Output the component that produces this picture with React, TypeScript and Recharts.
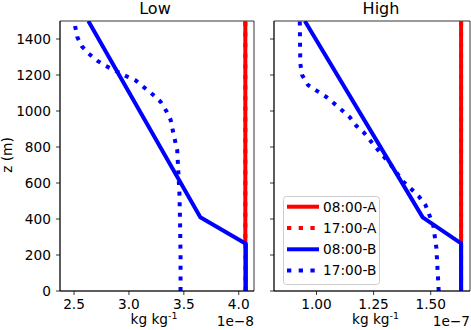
import React from "react";
import { LineChart, Line, XAxis, YAxis, ReferenceArea } from "recharts";

// heights (m) and mixing ratio values, Low panel in 1e-8 kg/kg, High panel in 1e-7 kg/kg
const zTicks = [0, 200, 400, 600, 800, 1000, 1200, 1400];

const lowTicks = [2.5, 3.0, 3.5, 4.0];
const highTicks = [1.0, 1.25, 1.5];

const lowA08z = [0, 1500];
const lowA08v = [4.06, 4.06];
const lowA17z = [0, 1500];
const lowA17v = [4.06, 4.06];
const lowB08z = [0, 262, 410, 1500];
const lowB08v = [4.065, 4.065, 3.65, 2.63];
const lowB17z = [0, 200, 400, 540, 660, 780, 890, 950, 1000, 1050, 1090, 1130, 1170, 1195, 1250, 1280, 1320, 1360, 1410, 1470, 1500];
const lowB17v = [3.47, 3.47, 3.465, 3.46, 3.45, 3.44, 3.4, 3.38, 3.34, 3.29, 3.22, 3.14, 3.06, 2.97, 2.79, 2.71, 2.63, 2.57, 2.53, 2.51, 2.505];

const highA08z = [0, 1500];
const highA08v = [1.633, 1.633];
const highA17z = [0, 1500];
const highA17v = [1.633, 1.633];
const highB08z = [0, 265, 409, 1500];
const highB08v = [1.633, 1.633, 1.465, 0.949];
const highB17z = [0, 237, 367, 478, 524, 565, 607, 700, 793, 880, 917, 965, 1006, 1043, 1080, 1113, 1144, 1200, 1265, 1491, 1500];
const highB17v = [1.535, 1.525, 1.511, 1.477, 1.449, 1.416, 1.38, 1.326, 1.263, 1.207, 1.175, 1.146, 1.11, 1.076, 1.041, 1.0, 0.963, 0.937, 0.929, 0.927, 0.927];

const names = ["08:00-A", "17:00-A", "08:00-B", "17:00-B"];
const colors = ["#ff0000", "#ff0000", "#0000ff", "#0000ff"];
const dotted = [false, true, false, true];

const FONT = "DejaVu Sans";
const FS = 13.7;

const rows = (z: number[], v: number[]) => z.map((zz, i) => ({ z: zz, v: v[i] }));

const lowSeries = [rows(lowA08z, lowA08v), rows(lowA17z, lowA17v), rows(lowB08z, lowB08v), rows(lowB17z, lowB17v)];
const highSeries = [rows(highA08z, highA08v), rows(highA17z, highA17v), rows(highB08z, highB08v), rows(highB17z, highB17v)];

function Panel({
  series,
  domain,
  ticks,
  digits,
  width,
  yWidth,
  marginRight,
  showY,
}: {
  series: { z: number; v: number }[][];
  domain: [number, number];
  ticks: number[];
  digits: number;
  width: number;
  yWidth: number;
  marginRight: number;
  showY: boolean;
}) {
  const tickStyle = { fontSize: FS, fill: "#000", fontFamily: FONT };
  return (
    <LineChart
      layout="vertical"
      width={width}
      height={330}
      margin={{ top: 21, right: marginRight, bottom: 9, left: 0 }}
    >
      <XAxis
        type="number"
        dataKey="v"
        domain={domain}
        ticks={ticks}
        allowDataOverflow
        height={30}
        tickSize={4}
        tickMargin={4}
        stroke="#000"
        strokeWidth={0.8}
        tick={tickStyle}
        tickFormatter={(t) => Number(t).toFixed(digits)}
      />
      <YAxis
        type="number"
        dataKey="z"
        domain={[0, 1500]}
        ticks={zTicks}
        reversed
        allowDataOverflow
        width={yWidth}
        tickSize={4}
        tickMargin={5}
        stroke="#000"
        strokeWidth={0.8}
        tick={tickStyle}
        tickFormatter={(t) => (showY ? String(t) : "")}
      />
      {series.map((d, i) => (
        <Line
          key={names[i]}
          data={d}
          dataKey="v"
          name={names[i]}
          stroke={colors[i]}
          strokeWidth={4}
          strokeDasharray={dotted[i] ? "4 6.6" : undefined}
          strokeLinejoin="round"
          dot={false}
          isAnimationActive={false}
        />
      ))}
      <ReferenceArea
        x1={domain[0]}
        x2={domain[1]}
        y1={0}
        y2={1500}
        fill="none"
        stroke="#000"
        strokeWidth={0.8}
        ifOverflow="visible"
      />
    </LineChart>
  );
}

function Unit({ x, y }: { x: number; y: number }) {
  return (
    <text x={x} y={y} textAnchor="middle" fontSize={FS} fontFamily={FONT}>
      kg kg
      <tspan dy={-5} fontSize={9.5}>
        -1
      </tspan>
    </text>
  );
}

export default function App() {
  return (
    <div style={{ position: "absolute", left: 0, top: 0, width: 471, height: 330, background: "#fff" }}>
      <div style={{ position: "absolute", left: 0, top: 0 }}>
        <Panel
          series={lowSeries}
          domain={[2.372, 4.139]}
          ticks={lowTicks}
          digits={1}
          width={260}
          yWidth={60}
          marginRight={6}
          showY
        />
      </div>
      <div style={{ position: "absolute", left: 262, top: 0 }}>
        <Panel
          series={highSeries}
          domain={[0.814, 1.672]}
          ticks={highTicks}
          digits={2}
          width={209}
          yWidth={12}
          marginRight={1}
          showY={false}
        />
      </div>
      <svg
        width={471}
        height={330}
        style={{ position: "absolute", left: 0, top: 0, pointerEvents: "none" }}
      >
        <text x={155} y={14} textAnchor="middle" fontSize={16} fontFamily={FONT}>Low</text>
        <text x={381} y={14} textAnchor="middle" fontSize={16} fontFamily={FONT}>High</text>
        <text
          x={11.5}
          y={155}
          textAnchor="middle"
          fontSize={FS}
          fontFamily={FONT}
          transform="rotate(-90, 11.5, 155)"
        >
          z (m)
        </text>
        <Unit x={154} y={324} />
        <Unit x={375.5} y={324} />
        <text x={254} y={325.5} textAnchor="end" fontSize={FS} fontFamily={FONT}>1e−8</text>
        <text x={470} y={325.5} textAnchor="end" fontSize={FS} fontFamily={FONT}>1e−7</text>
        <g>
          <rect x={283.5} y={196.5} width={96} height={88} rx={3} fill="rgba(255,255,255,0.8)" stroke="#cccccc" strokeWidth={1} />
          {names.map((n, i) => {
            const cy = 206.7 + i * 21.3;
            return (
              <g key={n}>
                <line
                  x1={287}
                  x2={319}
                  y1={cy}
                  y2={cy}
                  stroke={colors[i]}
                  strokeWidth={4}
                  strokeDasharray={dotted[i] ? "4.3 7.4" : undefined}
                />
                <text x={323} y={cy + 4.8} fontSize={FS} fontFamily={FONT}>{n}</text>
              </g>
            );
          })}
        </g>
      </svg>
    </div>
  );
}
